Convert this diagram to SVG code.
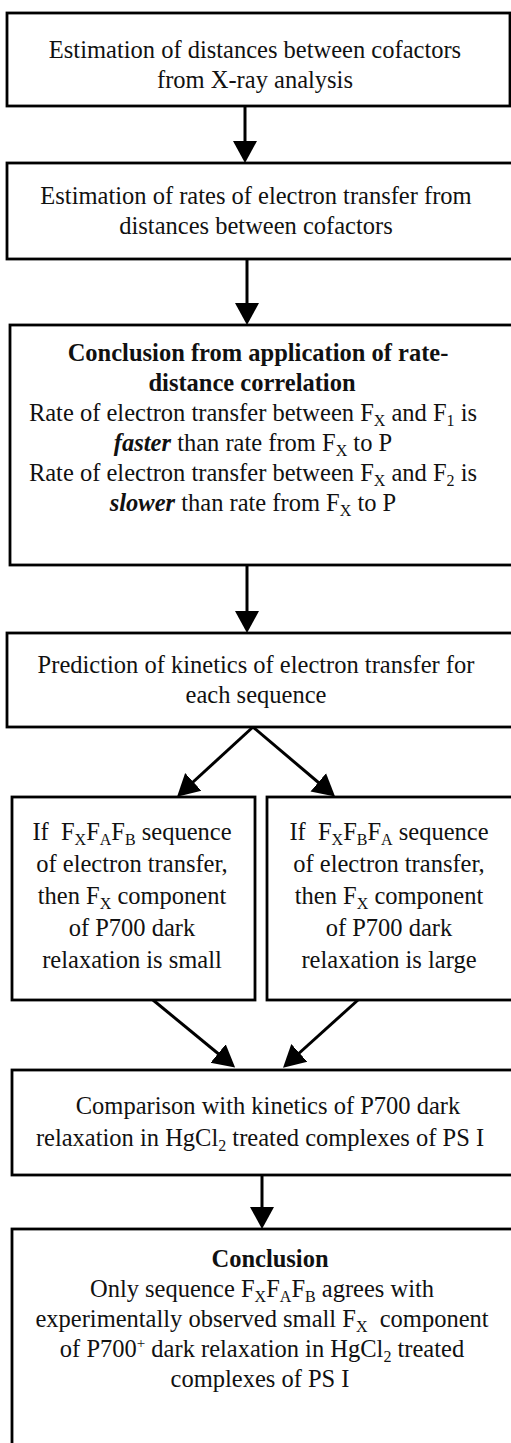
<svg xmlns="http://www.w3.org/2000/svg" width="511" height="1443" viewBox="0 0 511 1443">
<style>
.box{fill:#fff;stroke:#000;stroke-width:2.8}
.t{font-family:"Liberation Serif","Times New Roman",serif;font-size:24.5px;fill:#111;text-anchor:middle}
.b{font-weight:bold}
.bi{font-weight:bold;font-style:italic}
.sub{font-size:16px}
.sup{font-size:15px}
.conn{stroke:#000;stroke-width:3;fill:none;marker-end:url(#ah)}
</style>
<defs>
<marker id="ah" markerUnits="userSpaceOnUse" markerWidth="23" markerHeight="26" refX="18" refY="13" orient="auto" viewBox="0 0 23 26">
<path d="M0,1 L22,13 L0,25 z" fill="#000"/>
</marker>
</defs>
<rect width="511" height="1443" fill="#fff"/>
<g id="connectors">
<line class="conn" x1="245" y1="106" x2="245" y2="159"/>
<line class="conn" x1="247" y1="259" x2="247" y2="321"/>
<line class="conn" x1="247" y1="565" x2="247" y2="629"/>
<line class="conn" x1="253" y1="727" x2="180" y2="794"/>
<line class="conn" x1="253" y1="727" x2="332" y2="794"/>
<line class="conn" x1="153" y1="1000" x2="232" y2="1065"/>
<line class="conn" x1="358" y1="1000" x2="286" y2="1065"/>
<line class="conn" x1="262" y1="1175" x2="262" y2="1225"/>
</g>
<g id="n1">
<rect class="box" x="7" y="13" width="503" height="93"/>
<text class="t" x="255" y="58">Estimation of distances between cofactors</text>
<text class="t" x="255" y="88">from X-ray analysis</text>
</g>
<g id="n2">
<rect class="box" x="7" y="163" width="506" height="96"/>
<text class="t" x="256" y="204">Estimation of rates of electron transfer from</text>
<text class="t" x="256" y="234">distances between cofactors</text>
</g>
<g id="n3">
<rect class="box" x="10" y="325" width="503" height="240"/>
<text class="t b" x="258" y="361">Conclusion from application of rate-</text>
<text class="t b" x="252" y="391">distance correlation</text>
<text class="t" x="253" y="421">Rate of electron transfer between F<tspan class="sub" dy="5">X</tspan><tspan dy="-5"> and F</tspan><tspan class="sub" dy="5">1</tspan><tspan dy="-5"> is</tspan></text>
<text class="t" x="253" y="451"><tspan class="bi">faster</tspan> than rate from F<tspan class="sub" dy="5">X</tspan><tspan dy="-5"> to P</tspan></text>
<text class="t" x="253" y="481">Rate of electron transfer between F<tspan class="sub" dy="5">X</tspan><tspan dy="-5"> and F</tspan><tspan class="sub" dy="5">2</tspan><tspan dy="-5"> is</tspan></text>
<text class="t" x="253" y="511"><tspan class="bi">slower</tspan> than rate from F<tspan class="sub" dy="5">X</tspan><tspan dy="-5"> to P</tspan></text>
</g>
<g id="n4">
<rect class="box" x="7" y="633" width="506" height="94"/>
<text class="t" x="256" y="673">Prediction of kinetics of electron transfer for</text>
<text class="t" x="256" y="703">each sequence</text>
</g>
<g id="n5">
<rect class="box" x="12" y="797" width="243" height="203"/>
<text class="t" x="132" y="840">If&#160; F<tspan class="sub" dy="5">X</tspan><tspan dy="-5">F</tspan><tspan class="sub" dy="5">A</tspan><tspan dy="-5">F</tspan><tspan class="sub" dy="5">B</tspan><tspan dy="-5"> sequence</tspan></text>
<text class="t" x="132" y="872">of electron transfer,</text>
<text class="t" x="132" y="904">then F<tspan class="sub" dy="5">X</tspan><tspan dy="-5"> component</tspan></text>
<text class="t" x="132" y="936">of P700 dark</text>
<text class="t" x="132" y="968">relaxation is small</text>
</g>
<g id="n6">
<rect class="box" x="267" y="797" width="246" height="203"/>
<text class="t" x="389" y="840">If&#160; F<tspan class="sub" dy="5">X</tspan><tspan dy="-5">F</tspan><tspan class="sub" dy="5">B</tspan><tspan dy="-5">F</tspan><tspan class="sub" dy="5">A</tspan><tspan dy="-5"> sequence</tspan></text>
<text class="t" x="389" y="872">of electron transfer,</text>
<text class="t" x="389" y="904">then F<tspan class="sub" dy="5">X</tspan><tspan dy="-5"> component</tspan></text>
<text class="t" x="389" y="936">of P700 dark</text>
<text class="t" x="389" y="968">relaxation is large</text>
</g>
<g id="n7">
<rect class="box" x="12" y="1070" width="501" height="105"/>
<text class="t" x="268" y="1114">Comparison with kinetics of P700 dark</text>
<text class="t" x="260" y="1146">relaxation in HgCl<tspan class="sub" dy="5">2</tspan><tspan dy="-5"> treated complexes of PS I</tspan></text>
</g>
<g id="n8">
<rect class="box" x="12" y="1229" width="501" height="220"/>
<text class="t b" x="270" y="1267">Conclusion</text>
<text class="t" x="262" y="1297">Only sequence F<tspan class="sub" dy="5">X</tspan><tspan dy="-5">F</tspan><tspan class="sub" dy="5">A</tspan><tspan dy="-5">F</tspan><tspan class="sub" dy="5">B</tspan><tspan dy="-5"> agrees with</tspan></text>
<text class="t" x="262" y="1327">experimentally observed small F<tspan class="sub" dy="5">X</tspan><tspan dy="-5">&#160; component</tspan></text>
<text class="t" x="262" y="1357">of P700<tspan class="sup" dy="-9">+</tspan><tspan dy="9"> dark relaxation in HgCl</tspan><tspan class="sub" dy="5">2</tspan><tspan dy="-5"> treated</tspan></text>
<text class="t" x="260" y="1387">complexes of PS I</text>
</g>
</svg>
